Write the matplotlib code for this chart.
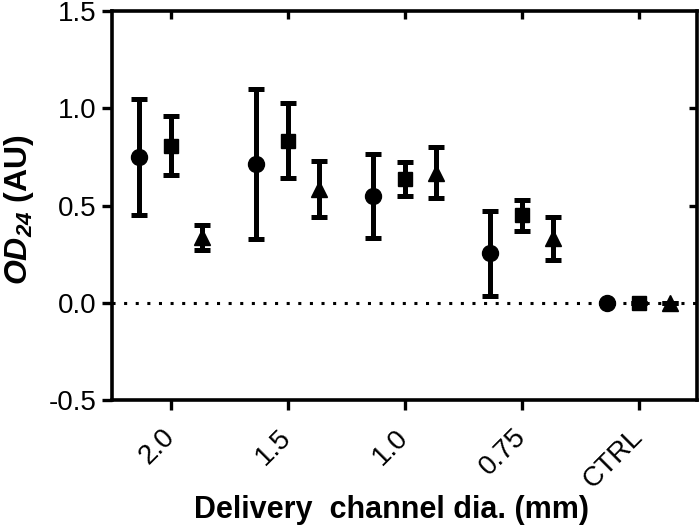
import numpy as np
import matplotlib
matplotlib.use("Agg")
import matplotlib.pyplot as plt

plt.rcParams['font.family'] = ['Liberation Sans', 'DejaVu Sans']
plt.rcParams['mathtext.fontset'] = 'custom'
plt.rcParams['mathtext.rm'] = 'Liberation Sans'
plt.rcParams['mathtext.bf'] = 'Liberation Sans:bold'
plt.rcParams['mathtext.it'] = 'Liberation Sans:italic'
plt.rcParams['mathtext.bfit'] = 'Liberation Sans:italic:bold'

categories = ['2.0', '1.5', '1.0', '0.75', 'CTRL']
circle_mean = [0.75, 0.714, 0.548, 0.255, 0.0]
circle_err = [0.30, 0.387, 0.216, 0.218, 0.0]
square_mean = [0.808, 0.833, 0.636, 0.45, 0.0]
square_err = [0.15, 0.193, 0.086, 0.08, 0.0]
tri_mean = [0.336, 0.587, 0.669, 0.332, 0.0]
tri_err = [0.064, 0.144, 0.131, 0.111, 0.0]
y_ticks = [-0.5, 0.0, 0.5, 1.0, 1.5]

fig = plt.figure(figsize=(7.0, 5.27), dpi=100)
ax = fig.add_axes([0.16, 0.241, 0.836, 0.738])

x = np.arange(len(categories))
off = 0.27
common = dict(color='black', ecolor='black', elinewidth=3.6, capsize=5.8,
              capthick=3.6, linestyle='none', zorder=3)
ax.errorbar(x - off, circle_mean, yerr=circle_err, marker='o', markersize=11.5, **common)
ax.errorbar(x, square_mean, yerr=square_err, marker='s', markersize=10.5, **common)
ax.errorbar(x + off, tri_mean, yerr=tri_err, marker='^', markersize=12, **common)

ax.axhline(0, color='black', lw=2.2, linestyle=(0, (1, 2.8)), zorder=1)

ax.set_xlim(-0.5, 4.5)
ax.set_ylim(-0.5, 1.5)
ax.set_yticks(y_ticks)
ax.set_yticklabels([f'{v:.1f}' for v in y_ticks])
ax.set_xticks(x)
ax.set_xticklabels(categories, rotation=45, ha='right', va='center',
                   rotation_mode='anchor')

for s in ax.spines.values():
    s.set_linewidth(2.6)
ax.tick_params(axis='both', which='major', length=7, width=2.4, labelsize=20,
               direction='out', pad=4)
ax.tick_params(axis='x', pad=17)

# inward ticks on top and right
ax_top = ax.secondary_xaxis('top')
ax_top.set_xticks(x)
ax_top.tick_params(direction='in', length=6, width=2.4, labeltop=False)
ax_top.spines['top'].set_visible(False)
ax_right = ax.secondary_yaxis('right')
ax_right.set_yticks([0.5, 1.0])
ax_right.tick_params(direction='in', length=6, width=2.4, labelright=False)
ax_right.spines['right'].set_visible(False)

ax.set_xlabel('Delivery  channel dia. (mm)', fontsize=22, fontweight='bold')
ax.xaxis.set_label_coords(0.477, -0.245)
ax.set_ylabel(r'$\mathbfit{OD}_{\mathbfit{24}}$ (AU)', fontsize=23, fontweight='bold')
ax.yaxis.set_label_coords(-0.13, 0.49)

fig.savefig('out.png', dpi=100)
